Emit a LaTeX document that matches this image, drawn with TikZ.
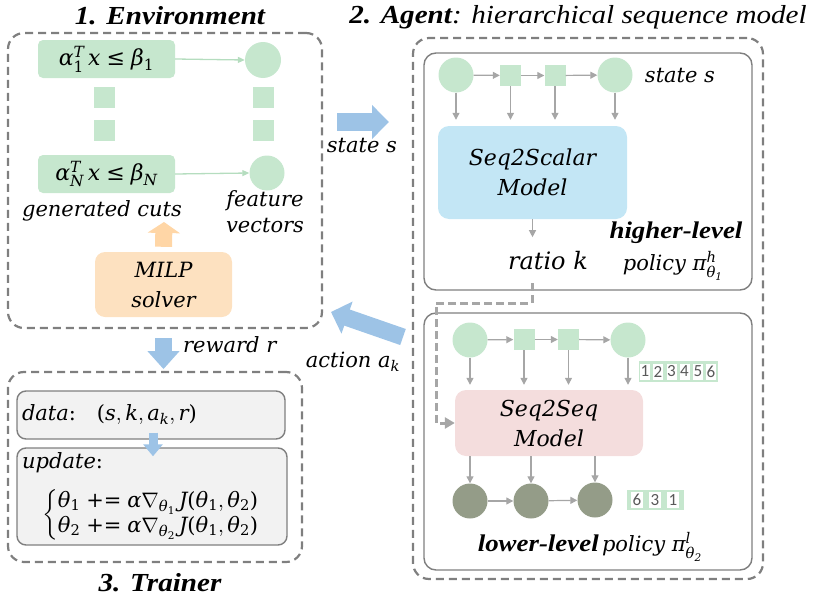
\documentclass[tikz,border=0pt]{standalone}
\usepackage{amsmath}
\usepackage{fontspec}
\DeclareFontFamily{OML}{cmm}{\skewchar\font'177}
\DeclareFontShape{OML}{cmm}{m}{it}{<->cmmi10}{}
\DeclareFontShape{OML}{cmm}{b}{it}{<->cmmib10}{}
\DeclareFontFamily{OMS}{cmsy}{\skewchar\font'60}
\DeclareFontShape{OMS}{cmsy}{m}{n}{<->cmsy10}{}
\DeclareFontFamily{OMX}{cmex}{}
\DeclareFontShape{OMX}{cmex}{m}{n}{<->cmex10}{}
\DeclareFontFamily{OT1}{cmr}{\hyphenchar\font45}
\DeclareFontShape{OT1}{cmr}{m}{n}{<->cmr10}{}
\usetikzlibrary{arrows.meta,calc}
\newfontfamily\tnr{Liberation Serif}[FakeStretch=1.12]
\newfontfamily\lab{DejaVu Serif}
\newfontfamily\calib{Carlito}
\newcommand\vi[1]{\text{\lab\itshape #1}}
\newcommand\vu[1]{\text{\lab #1}}
\definecolor{cgreen}{HTML}{C6E7CE}
\definecolor{garrowc}{HTML}{B5DDBF}
\definecolor{cdark}{HTML}{949C88}
\definecolor{cblue}{HTML}{9DC3E6}
\definecolor{corange}{HTML}{FFD6A6}
\definecolor{corangebox}{HTML}{FDE1C0}
\definecolor{cskybox}{HTML}{C3E6F5}
\definecolor{cpink}{HTML}{F4DDDD}
\definecolor{cgrayfill}{HTML}{F2F2F2}
\definecolor{cline}{HTML}{A6A6A6}
\definecolor{cdash}{HTML}{7F7F7F}
\definecolor{cdigit}{HTML}{595959}
\begin{document}
\begin{tikzpicture}[x=1pt,y=-1pt,
  dashbox/.style={draw=cdash, line width=2.2pt, dash pattern=on 8pt off 5pt, rounded corners=16pt, inner sep=0pt},
  solidbox/.style={draw=cdash, line width=1.4pt, rounded corners=12pt, inner sep=0pt},
  cutbox/.style={fill=cgreen, rounded corners=5pt, minimum width=137pt, minimum height=38pt, inner sep=0pt, font=\fontsize{22}{24}\selectfont},
  gcirc/.style={circle, fill=cgreen, minimum size=35pt, inner sep=0pt},
  dcirc/.style={circle, fill=cdark, minimum size=35pt, inner sep=0pt},
  gsq/.style={fill=cgreen, minimum size=21pt, inner sep=0pt},
  flow/.style={draw=cline, line width=1.2pt, -{Triangle[length=7pt,width=7pt]}},
  thinflow/.style={draw=garrowc, line width=1.3pt, -{Triangle[length=7pt,width=6pt]}},
  bigarrow/.style={draw=cblue, line width=17pt, -{Triangle[length=17pt,width=33pt]}},
  dashflow/.style={draw=cline, line width=3pt, dash pattern=on 8pt off 4pt, -{Triangle[length=10pt,width=11pt]}},
  lbl/.style={font=\lab\itshape\fontsize{21}{26}\selectfont, inner sep=0pt, align=center},
  ttl/.style={font=\tnr\bfseries\itshape\fontsize{26}{28}\selectfont, inner sep=0pt},
  model/.style={rounded corners=11pt, inner sep=0pt, align=center, font=\lab\itshape\fontsize{22}{30}\selectfont},
  numbg/.style={fill=cgreen, inner sep=0pt},
  cell/.style={fill=white, inner sep=0pt, minimum width=10pt, minimum height=16pt, text=cdigit, font=\calib\fontsize{17}{17}\selectfont},
]
\useasboundingbox (0,0) rectangle (814,597);

% ---------- 1. Environment ----------
\node[dashbox, minimum width=314pt, minimum height=295pt] (env) at (165,180.5) {};
\node[ttl] (envt) at (170,16) {1. Environment};
\node[cutbox] (cut1) at (106.5,59) {$\vi{α}_{\vu{1}}^{\vi{T}}\,\vi{x} \mathrel{\vu{≤}} \vi{β}_{\vu{1}}$};
\node[cutbox] (cutN) at (106.5,174) {$\vi{α}_{\vi{N}}^{\vi{T}}\,\vi{x} \mathrel{\vu{≤}} \vi{β}_{\vi{N}}$};
\node[gsq] (dl1) at (104,97.5) {};
\node[gsq] (dl2) at (104,130.5) {};
\node[gsq] (dr1) at (263.5,97.5) {};
\node[gsq] (dr2) at (263.5,130.5) {};
\node[gcirc, minimum size=36pt] (f1) at (263,60) {};
\node[gcirc] (fN) at (267,173) {};
\draw[thinflow] (cut1.east) -- (f1.west);
\draw[thinflow] (cutN.east) -- (fN.west);
\node[lbl] (gen) at (102,211) {generated cuts};
\node[lbl] (feat) at (265,212) {feature\\vectors};
\node[model, fill=corangebox, rounded corners=10pt, minimum width=137pt, minimum height=65pt, font=\lab\itshape\fontsize{21}{30}\selectfont] (milp) at (163.5,284.5) {MILP\\solver};
\coordinate (gtip) at (164,222);
\draw[draw=corange, line width=17pt, -{Triangle[length=11pt,width=32pt]}] ([yshift=5pt]milp.north) -- (gtip);

% ---------- reward ----------
\coordinate (rA) at ($(env.south -| milp.south)+(0,9)$);
\coordinate (rB) at ($(env.south -| milp.south)+(0,40)$);
\draw[bigarrow, -{Triangle[length=18pt,width=31pt]}] (rA) -- (rB);
\node[lbl, anchor=west] (rew) at (183,345) {reward r};

% ---------- 3. Trainer ----------
\node[dashbox, minimum width=294pt, minimum height=190pt] (trn) at (155,467) {};
\node[ttl] (trnt) at (160,583) {3. Trainer};
\node[solidbox, fill=cgrayfill, rounded corners=9pt, minimum width=268pt, minimum height=48pt, text width=258pt, align=left, font=\fontsize{21}{26}\selectfont] (data) at (151,415) {{\lab\itshape data}{\lab:}\quad$\vu{(}\vi{s},\vi{k},\vi{a}_{\vi{k}},\vi{r}\vu{)}$};
\node[solidbox, fill=cgrayfill, rounded corners=9pt, minimum width=270pt, minimum height=97pt] (upd) at (152,496.5) {};
\node[anchor=west, inner sep=0pt, font=\lab\itshape\fontsize{21}{24}\selectfont] (updl) at (22,463) {update{\upshape:}};
\node[anchor=west, inner sep=0pt, font=\fontsize{21}{24}\selectfont] (upde) at (42,515) {$\left\{\begin{array}{@{}l@{}}\vi{θ}_{\vu{1}} \mathrel{\vu{+}}\mathrel{\vu{=}} \vi{α}\nabla_{\vi{θ}_{\vu{1}}}\,\vi{J}\vu{(}\vi{θ}_{\vu{1}},\vi{θ}_{\vu{2}}\vu{)}\\[1pt] \vi{θ}_{\vu{2}} \mathrel{\vu{+}}\mathrel{\vu{=}} \vi{α}\nabla_{\vi{θ}_{\vu{2}}}\,\vi{J}\vu{(}\vi{θ}_{\vu{1}},\vi{θ}_{\vu{2}}\vu{)}\end{array}\right.$};
\coordinate (dA) at ($(data.south)+(2,-7)$);
\coordinate (dB) at ($(data.south |- upd.north)+(2,9)$);
\draw[draw=cblue, line width=9pt, -{Triangle[length=12pt,width=19pt]}] (dA) -- (dB);

% ---------- 2. Agent ----------
\node[dashbox, minimum width=350pt, minimum height=541pt] (agent) at (588,308.5) {};
\node[font=\tnr\itshape\fontsize{26}{28}\selectfont, inner sep=0pt] (agt) at (578,17) {{\bfseries 2. Agent}: hierarchical sequence model};
\node[solidbox, minimum width=328pt, minimum height=237pt] (high) at (588,171.5) {};
\node[solidbox, minimum width=328pt, minimum height=257pt] (low) at (588,441.5) {};

% higher level
\node[gcirc] (hc1) at (456,75) {};
\node[gsq] (hs1) at (510.5,75.5) {};
\node[gsq] (hs2) at (555,75.5) {};
\node[gcirc] (hc2) at (615,75) {};
\draw[flow] (hc1) -- (hs1);
\draw[flow] (hs1) -- (hs2);
\draw[flow] (hs2) -- (hc2);
\node[lbl] (sts) at (680,76) {state s};
\node[model, fill=cskybox, minimum width=189pt, minimum height=93pt] (scal) at (532.5,172.5) {Seq2Scalar\\Model};
\foreach \n in {hc1,hs1,hs2,hc2}{
  \draw[flow, shorten >=6pt] (\n.south) -- (\n.south |- scal.north);
}
\draw[flow] (scal.south) -- ([yshift=-18pt]scal.south);
\node[lbl, font=\lab\itshape\fontsize{24}{26}\selectfont] (ratio) at (548,261) {ratio k};
\node[font=\tnr\bfseries\itshape\fontsize{24}{26}\selectfont, inner sep=0pt] (hl) at (676,233) {higher-level};
\node[lbl] (hp) at (673,266) {policy $\vi{π}^{\vi{h}}_{\vi{θ}_{\vu{1}}}$};

% lower level
\node[gcirc] (lc1) at (470,340) {};
\node[gsq] (ls1) at (524,339.5) {};
\node[gsq] (ls2) at (568.5,339.5) {};
\node[gcirc] (lc2) at (628,340) {};
\draw[flow] (lc1) -- (ls1);
\draw[flow] (ls1) -- (ls2);
\draw[flow] (ls2) -- (lc2);
\node[numbg, minimum width=79pt, minimum height=21pt] (nb1) at (678.5,371.5) {};
\node[cell] (n1) at (645,371.5) {1};
\node[cell] (n2) at (658,371.5) {2};
\node[cell] (n3) at (671.5,371.5) {3};
\node[cell] (n4) at (684.5,371.5) {4};
\node[cell] (n5) at (698,371.5) {5};
\node[cell] (n6) at (711,371.5) {6};
\node[model, fill=cpink, minimum width=188pt, minimum height=66pt] (s2s) at (549,423) {Seq2Seq\\Model};
\foreach \n in {lc1,ls1,ls2,lc2}{
  \draw[flow, shorten >=5pt] (\n.south) -- (\n.south |- s2s.north);
}
\node[dcirc] (oc1) at (470,501) {};
\node[dcirc] (oc2) at (531,501) {};
\node[dcirc] (oc3) at (595,500) {};
\foreach \n in {oc1,oc2,oc3}{
  \draw[flow] (s2s.south -| \n) -- (\n.north);
}
\draw[flow] (oc1) -- (oc2);
\draw[flow] (oc2) -- (oc3);
\node[numbg, minimum width=57pt, minimum height=20pt] (nb2) at (655.5,500) {};
\node[cell, minimum width=12pt] (m1) at (637,500) {6};
\node[cell, minimum width=12pt] (m2) at (655,500) {3};
\node[cell, minimum width=12pt] (m3) at (673,500) {1};
\node[inner sep=0pt] (ll) at (590,547) {{\tnr\bfseries\itshape\fontsize{24}{26}\selectfont lower-level} {\lab\itshape\fontsize{21}{26}\selectfont policy $\vi{π}^{\vi{l}}_{\vi{θ}_{\vu{2}}}$}};

% dashed ratio connector
\coordinate (rk) at (532,283);
\coordinate (bend) at (436,303);
\draw[dashflow] (rk) |- (bend) |- (s2s.west);

% ---------- big arrows between blocks ----------
\coordinate (sA) at (337,122);
\coordinate (sB) at (389,122);
\draw[bigarrow, line width=18pt] (sA) -- (sB);
\node[lbl] (stl) at (362,146) {state s};
\coordinate (aA) at (403,337);
\coordinate (aB) at (331,312);
\draw[bigarrow] (aA) -- (aB);
\node[lbl] (actl) at (353,362) {action $\vi{a}_{\vi{k}}$};
\end{tikzpicture}
\end{document}
